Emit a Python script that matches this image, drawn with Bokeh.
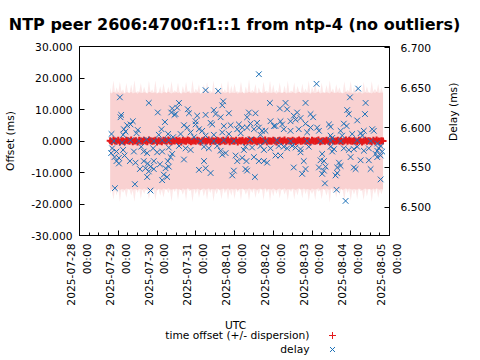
import math
from datetime import datetime, timedelta
from bokeh.plotting import figure
from bokeh.layouts import column
from bokeh.models import (LinearAxis, Range1d, FixedTicker, NumeralTickFormatter,
                          DatetimeTickFormatter)
from bokeh.core.properties import value
from bokeh.embed import file_html
from bokeh.resources import INLINE

TITLE = "NTP peer 2606:4700:f1::1 from ntp-4 (no outliers)"
START = datetime(2025, 7, 28)
TICK_DAYS = ["2025-07-28", "2025-07-29", "2025-07-30", "2025-07-31", "2025-08-01",
             "2025-08-02", "2025-08-03", "2025-08-04", "2025-08-05"]
OFFSET_TICKS = [-30, -20, -10, 0, 10, 20, 30]
DELAY_TICKS = [6.500, 6.550, 6.600, 6.650, 6.700]
X_LABEL = "UTC"
LEGEND_LABELS = ["time offset (+/- dispersion)", "delay"]

# offset samples: hours since 2025-07-28 00:00 UTC (one sample per hour)
off_hours = list(range(19, 189))
offset_ms = [
    0.1, -0.2, 0.3, 0.0, -0.1, 0.2, -0.3, 0.1, 0.0, -0.2,
    0.2, 0.1, -0.1, 0.3, -0.2, 0.0, 0.1, -0.3, 0.2, 0.0,
    -0.1, 0.2, 0.0, -0.2, 0.3, 0.1, -0.1, 0.0, 0.2, -0.3,
    0.1, 0.0, -0.2, 0.2, 0.1, -0.1, 0.3, 0.0, -0.2, 0.1,
    0.0, 0.2, -0.1, 0.1, -0.3, 0.2, 0.0, -0.1, 0.3, 0.1,
    -0.2, 0.0, 0.1, -0.1, 0.2, 0.0, -0.3, 0.1, 0.2, -0.1,
    0.0, 0.3, -0.2, 0.1, 0.0, -0.1, 0.2, 0.1, -0.2, 0.0,
    0.2, -0.1, 0.0, 0.3, -0.2, 0.1, 0.0, -0.1, 0.2, -0.3,
    0.1, 0.0, 0.2, -0.2, 0.1, -0.1, 0.3, 0.0, -0.1, 0.2,
    0.0, -0.2, 0.1, 0.2, -0.1, 0.0, 0.3, -0.2, 0.1, 0.0,
    -0.1, 0.2, 0.0, -0.3, 0.1, 0.2, -0.1, 0.0, 0.3, -0.2,
    0.1, 0.0, -0.1, 0.2, 0.0, -0.2, 0.1, 0.3, -0.1, 0.0,
    0.2, -0.1, 0.1, 0.0, -0.3, 0.2, 0.0, -0.1, 0.1, 0.3,
    -0.2, 0.0, 0.1, -0.1, 0.2, 0.0, -0.2, 0.3, 0.1, -0.1,
    0.0, 0.2, -0.1, 0.1, -0.2, 0.0, 0.3, -0.1, 0.2, 0.0,
    -0.1, 0.1, 0.0, -0.2, 0.2, 0.1, -0.3, 0.0, 0.2, -0.1,
    0.1, 0.0, -0.2, 0.2, -0.1, 0.3, 0.0, -0.1, 0.1, 0.0,
]
dispersion_ms = [
    16.8, 15.3, 18.9, 15.4, 17.2, 15.3, 19.1, 15.6, 16.4, 15.3,
    18.2, 15.4, 15.3, 17.6, 15.5, 19.3, 15.3, 16.1, 15.4, 18.4,
    15.3, 17.0, 15.6, 15.3, 18.8, 15.4, 16.5, 15.3, 19.0, 15.5,
    15.3, 17.4, 15.3, 18.1, 15.6, 15.3, 16.9, 15.4, 19.2, 15.3,
    16.2, 15.3, 18.6, 15.5, 15.3, 17.3, 15.4, 18.9, 15.3, 16.0,
    15.4, 19.4, 15.3, 16.7, 15.5, 18.0, 15.3, 15.4, 17.8, 15.3,
    18.7, 15.5, 16.3, 15.3, 19.1, 15.4, 17.1, 15.3, 15.6, 18.5,
    15.3, 16.6, 15.4, 19.0, 15.3, 17.5, 15.3, 18.3, 15.5, 16.0,
    15.3, 18.9, 15.4, 15.3, 17.2, 15.6, 19.3, 15.3, 16.4, 15.4,
    18.1, 15.3, 17.0, 15.5, 15.3, 18.8, 15.4, 16.2, 15.3, 19.2,
    15.4, 17.7, 15.3, 16.5, 15.3, 18.4, 15.5, 15.3, 17.3, 15.4,
    19.0, 15.3, 16.1, 15.4, 18.6, 15.3, 17.4, 15.5, 15.3, 18.2,
    15.3, 16.8, 15.4, 19.1, 15.3, 17.0, 15.6, 18.7, 15.3, 16.3,
    15.4, 18.5, 15.3, 15.5, 17.6, 15.3, 19.4, 15.4, 16.6, 15.3,
    18.0, 15.5, 17.2, 15.3, 15.4, 18.9, 15.3, 16.4, 15.6, 19.0,
    15.3, 17.1, 15.4, 18.3, 15.3, 16.0, 15.5, 18.8, 15.3, 17.5,
    15.4, 15.3, 19.2, 15.5, 16.7, 15.3, 18.1, 15.4, 17.0, 15.3,
]
CORE_DISP_MS = 15.3  # the steady part of the dispersion band

# delay samples: hours since 2025-07-28 00:00 UTC, delay in ms
delay_hours = [
    25.0, 42.9, 48.5, 57.4, 56.8, 58.8, 25.8, 25.4, 29.5, 33.0, 31.6, 52.9, 50.8, 27.5,
    28.5, 27.0, 36.1, 35.3, 19.8, 49.1, 54.9, 58.0, 21.3, 26.4, 31.6, 36.7, 41.5, 46.0,
    51.2, 55.3, 20.2, 22.9, 19.6, 21.7, 24.4, 22.9, 24.4, 27.0, 27.9, 33.7, 38.2, 39.8,
    41.9, 45.6, 48.1, 51.2, 55.3, 57.4, 56.4, 31.2, 34.7, 39.8, 42.3, 46.0, 49.8, 54.7,
    37.4, 40.9, 44.0, 42.9, 41.9, 46.0, 52.2, 51.2, 54.3, 53.3, 55.3, 34.3, 21.9, 44.0,
    78.1, 85.9, 89.0, 88.4, 61.6, 60.5, 59.5, 67.1, 67.8, 72.9, 71.9, 78.1, 83.2, 84.3,
    87.4, 92.5, 81.2, 82.2, 64.7, 66.7, 71.9, 74.0, 76.0, 89.4, 93.6, 98.7, 97.7, 100.8,
    62.6, 68.8, 70.9, 78.1, 83.2, 88.4, 92.5, 99.8, 75.0, 83.2, 89.4, 95.6, 61.6, 65.7,
    68.8, 77.1, 80.1, 85.3, 87.4, 90.5, 96.7, 97.7, 100.8, 64.7, 77.1, 74.0, 78.1, 81.2,
    94.6, 95.6, 88.4, 101.8,
    111.1, 117.9, 127.6, 124.1, 128.6, 140.0, 104.9, 109.0, 103.8, 134.8, 132.7, 143.1,
    144.7, 118.3, 120.4, 124.5, 125.5, 130.7, 133.8, 136.9, 140.0, 105.9, 110.0, 103.8,
    108.0, 111.1, 113.1, 115.2, 112.1, 121.4, 126.5, 130.7, 135.8, 143.1, 141.0, 105.9,
    115.2, 122.4, 130.7, 141.0, 102.8, 106.9, 112.1, 114.2, 118.3, 123.4, 126.5, 128.6,
    131.7, 133.8, 136.9, 142.0, 108.0, 111.1, 114.2, 116.2, 121.4, 124.5, 136.9, 138.9,
    140.0, 137.9, 102.8, 132.7, 108.6, 103.4, 103.8,
    146.8, 172.6, 167.5, 177.2, 165.8, 166.8, 176.8, 172.0, 163.7, 165.4, 154.5, 155.5,
    147.2, 148.3, 181.3, 182.3, 176.1, 174.1, 175.1, 161.7, 162.7, 155.5, 156.5, 168.9,
    149.3, 155.5, 161.7, 172.0, 180.3, 184.4, 186.5, 185.4, 184.4, 187.5, 186.5, 183.4,
    184.4, 155.5, 157.6, 156.5, 163.7, 166.8, 169.9, 172.0, 176.1, 179.2, 150.3, 149.3,
    151.4, 148.3, 152.4, 151.4, 150.3, 160.7, 159.6, 161.7, 158.6, 159.6, 167.9, 169.9,
    171.0, 174.1, 179.2, 180.3, 186.5, 152.0, 159.2, 164.8,
]
delay_ms = [
    6.638, 6.631, 6.619, 6.624, 6.619, 6.616, 6.616, 6.613, 6.603, 6.608, 6.604, 6.607, 6.598, 6.598,
    6.595, 6.591, 6.597, 6.593, 6.592, 6.591, 6.592, 6.588, 6.583, 6.581, 6.584, 6.583, 6.585, 6.583,
    6.584, 6.584, 6.574, 6.570, 6.568, 6.563, 6.562, 6.558, 6.555, 6.572, 6.565, 6.570, 6.576, 6.570,
    6.568, 6.574, 6.569, 6.570, 6.575, 6.567, 6.563, 6.558, 6.556, 6.558, 6.555, 6.558, 6.554, 6.558,
    6.548, 6.549, 6.551, 6.545, 6.538, 6.548, 6.541, 6.534, 6.538, 6.549, 6.551, 6.529, 6.524, 6.521,
    6.647, 6.646, 6.633, 6.628, 6.631, 6.625, 6.617, 6.623, 6.618, 6.615, 6.608, 6.616, 6.622, 6.617,
    6.613, 6.618, 6.606, 6.604, 6.603, 6.600, 6.604, 6.598, 6.596, 6.602, 6.603, 6.604, 6.598, 6.600,
    6.592, 6.594, 6.588, 6.590, 6.591, 6.594, 6.592, 6.593, 6.583, 6.583, 6.584, 6.583, 6.577, 6.574,
    6.572, 6.576, 6.574, 6.577, 6.571, 6.568, 6.565, 6.558, 6.562, 6.560, 6.558, 6.547, 6.549, 6.543,
    6.540, 6.546, 6.566, 6.572,
    6.667, 6.631, 6.631, 6.624, 6.623, 6.631, 6.619, 6.618, 6.613, 6.619, 6.615, 6.617,
    6.613, 6.608, 6.602, 6.608, 6.604, 6.608, 6.610, 6.612, 6.605, 6.605, 6.606, 6.600,
    6.598, 6.600, 6.596, 6.596, 6.591, 6.602, 6.598, 6.596, 6.598, 6.600, 6.594, 6.585,
    6.583, 6.584, 6.583, 6.583, 6.576, 6.575, 6.577, 6.572, 6.574, 6.577, 6.576, 6.574,
    6.577, 6.575, 6.573, 6.576, 6.563, 6.558, 6.558, 6.556, 6.565, 6.565, 6.569, 6.558,
    6.548, 6.542, 6.548, 6.550, 6.538, 6.558, 6.546,
    6.655, 6.649, 6.638, 6.631, 6.622, 6.617, 6.617, 6.609, 6.605, 6.602, 6.604, 6.601,
    6.600, 6.596, 6.598, 6.596, 6.596, 6.593, 6.590, 6.596, 6.590, 6.590, 6.587, 6.592,
    6.583, 6.583, 6.583, 6.584, 6.583, 6.580, 6.577, 6.574, 6.571, 6.570, 6.565, 6.567,
    6.563, 6.576, 6.573, 6.570, 6.574, 6.572, 6.573, 6.576, 6.571, 6.574, 6.567, 6.559,
    6.558, 6.550, 6.551, 6.546, 6.542, 6.556, 6.550, 6.552, 6.540, 6.543, 6.563, 6.550,
    6.548, 6.559, 6.559, 6.548, 6.535, 6.530, 6.522, 6.508,
]

RED = "#e41a1c"
BLUE = "#1a70b8"
FONT = "DejaVu Sans"
FS = "10.7px"

# page layout (pixels)
W = 480
MAIN_H, STRIP_H = 310, 50
BORDER_L, BORDER_R, BORDER_T = 79, 91, 45


def at(h):
    return START + timedelta(hours=h)


def ms(d):
    return (d - datetime(1970, 1, 1)).total_seconds() * 1000.0


off_t = [at(h) for h in off_hours]
lo = [o - d for o, d in zip(offset_ms, dispersion_ms)]
hi = [o + d for o, d in zip(offset_ms, dispersion_ms)]
core_lo = [o - min(d, CORE_DISP_MS) for o, d in zip(offset_ms, dispersion_ms)]
core_hi = [o + min(d, CORE_DISP_MS) for o, d in zip(offset_ms, dispersion_ms)]
del_t = [at(h) for h in delay_hours]

day_ticks = [ms(datetime.strptime(s, "%Y-%m-%d")) for s in TICK_DAYS]
minor = []
for a, b in zip(day_ticks[:-1], day_ticks[1:]):
    step = (b - a) / 4
    minor += [a + k * step for k in range(4)]
minor.append(day_ticks[-1])

# ---------------- main chart ----------------
p = figure(width=W, height=MAIN_H, output_backend="svg", toolbar_location=None,
           x_axis_type="datetime",
           x_range=Range1d(day_ticks[0], day_ticks[-1]), y_range=Range1d(-30, 30),
           min_border_left=BORDER_L, min_border_right=BORDER_R, min_border_top=BORDER_T,
           min_border_bottom=75)
p.extra_y_ranges = {"delay": Range1d(6.4646, 6.7018)}
p.xgrid.visible = False
p.ygrid.visible = False
p.outline_line_color = "black"
p.outline_line_alpha = 1.0

p.title.text = TITLE
p.title.align = "center"
p.title.text_font = FONT
p.title.text_font_size = "16px"
p.title.text_font_style = "bold"
p.title.text_color = "black"
p.title.standoff = 25

p.varea(x=off_t, y1=lo, y2=hi, fill_color=RED, fill_alpha=0.1)
p.varea(x=off_t, y1=core_lo, y2=core_hi, fill_color=RED, fill_alpha=0.11)
p.scatter(off_t, offset_ms, marker="cross", size=7, line_color=RED, line_width=2)
p.scatter(del_t, delay_ms, marker="x", size=8, line_color=BLUE, line_width=1,
          y_range_name="delay")

xa = p.xaxis[0]
xa.ticker = FixedTicker(ticks=day_ticks, minor_ticks=minor)
fmt = "%Y-%m-%d\n%H:%M"
xa.formatter = DatetimeTickFormatter(days=fmt, hours=fmt, months=fmt, hourmin=fmt,
                                     minutes=fmt, years=fmt, seconds=fmt,
                                     minsec=fmt, milliseconds=fmt, microseconds=fmt)
xa.major_label_orientation = math.pi / 2
xa.major_label_standoff = 8

ya = p.yaxis[0]
ya.ticker = FixedTicker(ticks=OFFSET_TICKS)
ya.formatter = NumeralTickFormatter(format="0.000")
ya.major_label_standoff = 7
ya.axis_label = "Offset (ms)"
ya.axis_label_standoff = 11

ra = LinearAxis(y_range_name="delay", ticker=FixedTicker(ticks=DELAY_TICKS),
                formatter=NumeralTickFormatter(format="0.000"))
ra.major_label_standoff = 11
ra.axis_label = "Delay (ms)"
ra.axis_label_standoff = 19
ra.axis_label_orientation = math.pi / 2
p.add_layout(ra, "right")

for ax in [xa, ya, ra]:
    ax.axis_line_color = "black"
    ax.major_tick_line_color = "black"
    ax.minor_tick_line_color = "black"
    ax.major_tick_in = 5
    ax.major_tick_out = 0
    ax.minor_tick_in = 3
    ax.minor_tick_out = 0
    ax.major_label_text_font = FONT
    ax.major_label_text_font_size = FS
    ax.major_label_text_color = "black"
    ax.axis_label_text_font = FONT
    ax.axis_label_text_font_size = FS
    ax.axis_label_text_font_style = "normal"
    ax.axis_label_text_color = "black"
ya.minor_tick_line_color = None
ra.minor_tick_line_color = None

# ---------------- x label + legend strip (text, then symbol) ----------------
# the strip's frame lines up with the main frame; its x range is in page pixels
leg = figure(width=W, height=STRIP_H, output_backend="svg", toolbar_location=None,
             x_range=Range1d(BORDER_L, W - BORDER_R), y_range=Range1d(0, STRIP_H),
             x_axis_location=None, y_axis_location=None,
             min_border_left=BORDER_L, min_border_right=BORDER_R,
             min_border_top=0, min_border_bottom=0)
leg.outline_line_color = None
leg.grid.visible = False
XLAB_X, XLAB_Y = 235, 35
LEG_TEXT_X = 309
LEG_SYM_X = 332
LEG_ROWS_Y = [25, 11]
leg.text(x=[XLAB_X], y=[XLAB_Y], text=[X_LABEL], text_align="center",
         text_baseline="middle", text_font=value(FONT), text_font_size=value(FS),
         text_color="black")
leg.text(x=[LEG_TEXT_X, LEG_TEXT_X], y=LEG_ROWS_Y, text=LEGEND_LABELS,
         text_align="right", text_baseline="middle", text_font=value(FONT),
         text_font_size=value(FS), text_color="black")
leg.scatter([LEG_SYM_X], [LEG_ROWS_Y[0]], marker="cross", size=7, line_color=RED, line_width=1)
leg.scatter([LEG_SYM_X], [LEG_ROWS_Y[1]], marker="x", size=7, line_color=BLUE, line_width=1)

open("out.html", "w").write(file_html(column(p, leg, spacing=0), INLINE))
